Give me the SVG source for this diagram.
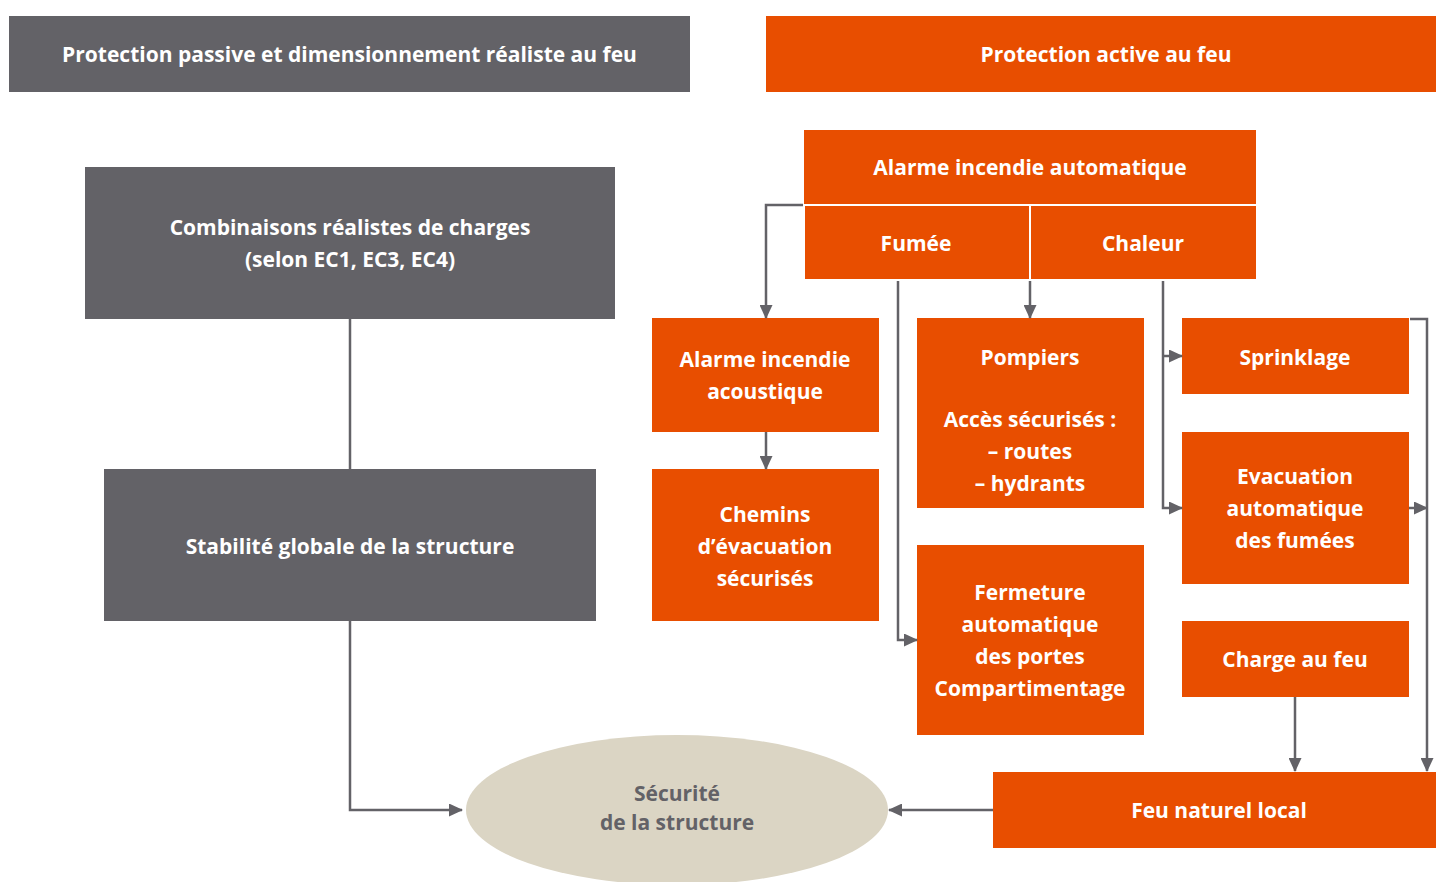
<svg xmlns="http://www.w3.org/2000/svg" width="1436" height="882" viewBox="0 0 1436 882">
<style>
.g{fill:#636267}
.o{fill:#E84E00}
.ob{fill:#E84E00;stroke:#ffffff;stroke-width:2}
text{font-family:"Open Sans","Noto Sans","Liberation Sans",sans-serif;font-weight:bold;font-size:21px;fill:#ffffff;text-anchor:middle;dominant-baseline:central}
.dk{fill:#636267;font-size:21px}
.c{fill:none;stroke:#636267;stroke-width:2.5}
</style>
<defs>
<marker id="ah" markerWidth="14" markerHeight="13" refX="13" refY="6.5" orient="auto" markerUnits="userSpaceOnUse">
<path d="M0,0 L14,6.5 L0,13 Z" fill="#636267"/>
</marker>
</defs>
<rect width="1436" height="882" fill="#ffffff"/>
<g id="header-passive"><rect class="g" x="9" y="16" width="681" height="76"/><text x="349.5" y="54">Protection passive et dimensionnement réaliste au feu</text></g>
<g id="header-active"><rect class="o" x="766" y="16" width="670" height="76"/><text x="1106" y="54">Protection active au feu</text></g>
<g id="combinaisons"><rect class="g" x="85" y="167" width="530" height="152"/><text x="350" y="227">Combinaisons réalistes de charges</text><text x="350" y="259">(selon EC1, EC3, EC4)</text></g>
<g id="stabilite"><rect class="g" x="104" y="469" width="492" height="152"/><text x="350" y="546">Stabilité globale de la structure</text></g>
<g id="alarme-auto"><rect class="ob" x="803" y="129" width="454" height="76"/><text x="1030" y="167">Alarme incendie automatique</text></g>
<g id="fumee"><rect class="ob" x="804" y="205" width="226" height="75"/><text x="916" y="243">Fumée</text></g>
<g id="chaleur"><rect class="ob" x="1030" y="205" width="227" height="75"/><text x="1143" y="243">Chaleur</text></g>
<g id="alarme-acoustique"><rect class="o" x="652" y="318" width="227" height="114"/><text x="765" y="359">Alarme incendie</text><text x="765" y="391">acoustique</text></g>
<g id="chemins"><rect class="o" x="652" y="469" width="227" height="152"/><text x="765" y="514">Chemins</text><text x="765" y="546">d’évacuation</text><text x="765" y="578">sécurisés</text></g>
<g id="pompiers"><rect class="o" x="917" y="318" width="227" height="190"/><text x="1030" y="357">Pompiers</text><text x="1030" y="419">Accès sécurisés :</text><text x="1030" y="451">– routes</text><text x="1030" y="483">– hydrants</text></g>
<g id="fermeture"><rect class="o" x="917" y="545" width="227" height="190"/><text x="1030" y="592">Fermeture</text><text x="1030" y="624">automatique</text><text x="1030" y="656">des portes</text><text x="1030" y="688">Compartimentage</text></g>
<g id="sprinklage"><rect class="o" x="1182" y="318" width="227" height="76"/><text x="1295" y="357">Sprinklage</text></g>
<g id="evacuation"><rect class="o" x="1182" y="432" width="227" height="152"/><text x="1295" y="476">Evacuation</text><text x="1295" y="508">automatique</text><text x="1295" y="540">des fumées</text></g>
<g id="charge"><rect class="o" x="1182" y="621" width="227" height="76"/><text x="1295" y="659">Charge au feu</text></g>
<g id="feu-naturel"><rect class="o" x="993" y="772" width="443" height="76"/><text x="1219" y="810">Feu naturel local</text></g>
<g id="securite"><ellipse cx="677" cy="810" rx="211" ry="75" fill="#DBD5C4"/><text class="dk" x="677" y="793">Sécurité</text><text class="dk" x="677" y="822">de la structure</text></g>
<g id="connectors">
<path class="c" d="M350,319 V469"/>
<path class="c" d="M350,621 V810 H462" marker-end="url(#ah)"/>
<path class="c" d="M803,205 H766 V318" marker-end="url(#ah)"/>
<path class="c" d="M766,432 V469" marker-end="url(#ah)"/>
<path class="c" d="M898,281 V640 H917" marker-end="url(#ah)"/>
<path class="c" d="M1030,281 V318" marker-end="url(#ah)"/>
<path class="c" d="M1163,281 V508 H1182" marker-end="url(#ah)"/>
<path class="c" d="M1163,356 H1182" marker-end="url(#ah)"/>
<path class="c" d="M1410,319 H1427 V771" marker-end="url(#ah)"/>
<path class="c" d="M1409,508 H1427" marker-end="url(#ah)"/>
<path class="c" d="M1295,697 V771" marker-end="url(#ah)"/>
<path class="c" d="M993,810 H889" marker-end="url(#ah)"/>
</g>
</svg>
